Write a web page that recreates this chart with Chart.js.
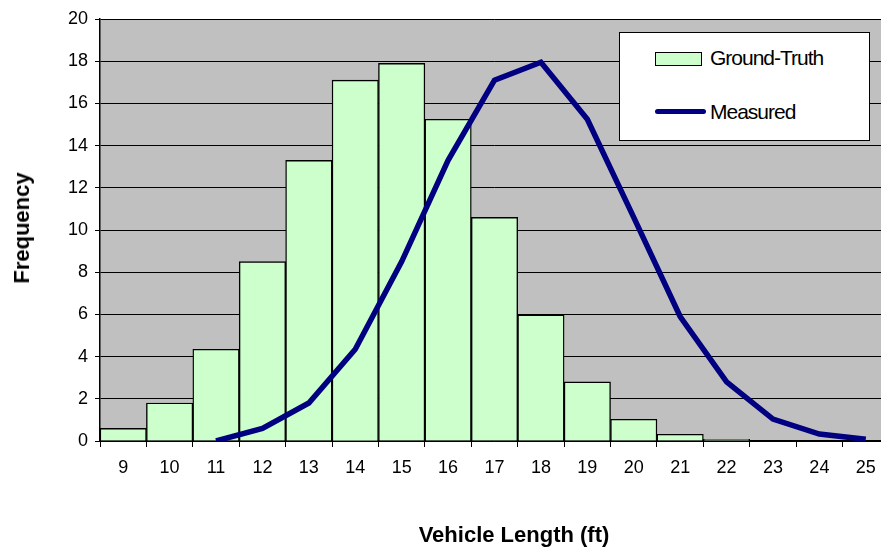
<!DOCTYPE html>
<html lang="en">
<head>
    <meta charset="UTF-8">
    <title>Vehicle Length Histogram</title>
    <script src="https://cdn.jsdelivr.net/npm/chart.js"></script>
    <style>
        html, body {
            margin: 0;
            padding: 0;
            background: #ffffff;
            overflow: hidden;
            font-family: 'Liberation Sans', Arial, sans-serif;
        }

        .wrap {
            position: relative;
            width: 890px;
            height: 550px;
        }

        /* Legend box drawn as html over the canvas */
        .legend {
            position: absolute;
            left: 619px;
            top: 32px;
            width: 249px;
            height: 107px;
            background: #ffffff;
            border: 1px solid #000;
        }

        .legend .item {
            position: absolute;
            left: 90px;
            font-size: 21px;
            letter-spacing: -1px;
            color: #000;
            line-height: 24px;
        }

        .legend .box {
            position: absolute;
            left: 35px;
            top: 19px;
            width: 45px;
            height: 12px;
            background: #ccffcc;
            border: 1px solid #000;
        }

        .legend .line {
            position: absolute;
            left: 35px;
            top: 76px;
            width: 51px;
            height: 5px;
            border-radius: 3px;
            background: #000080;
        }

        .xtitle {
            position: absolute;
            left: 0;
            width: 1028px;
            top: 522px;
            text-align: center;
            font-weight: bold;
            font-size: 22px;
        }

        .ytitle {
            position: absolute;
            left: 22px;
            top: 228px;
            transform: translate(-50%, -50%) rotate(-90deg);
            font-weight: bold;
            font-size: 22px;
            white-space: nowrap;
        }
    </style>
</head>
<body>
    <div class="wrap">
        <canvas id="histChart" width="890" height="550"></canvas>
        <div class="legend">
            <div class="box"></div>
            <div class="item" style="top: 13px;">Ground-Truth</div>
            <div class="line"></div>
            <div class="item" style="top: 67px;">Measured</div>
        </div>
        <div class="ytitle">Frequency</div>
        <div class="xtitle">Vehicle Length (ft)</div>
    </div>

    <script>
        // vehicle length bins (ft)
        const lengths = ['9', '10', '11', '12', '13', '14', '15', '16', '17', '18', '19', '20', '21', '22', '23', '24', '25'];

        // frequencies
        const groundTruth = [0.6, 1.8, 4.35, 8.5, 13.3, 17.1, 17.9, 15.25, 10.6, 5.97, 2.8, 1.03, 0.32, 0.08, 0, 0, 0];
        const measured = [null, null, 0, 0.6, 1.8, 4.35, 8.5, 13.3, 17.1, 17.95, 15.25, 10.6, 5.9, 2.8, 1.04, 0.33, 0.08];

        const yTicks = [0, 2, 4, 6, 8, 10, 12, 14, 16, 18, 20];

        // gray plot background
        const plotBg = {
            id: 'plotBg',
            beforeDraw(chart) {
                const a = chart.chartArea;
                const ctx = chart.ctx;
                ctx.save();
                ctx.fillStyle = '#c0c0c0';
                ctx.fillRect(a.left, a.top, a.right - a.left, a.bottom - a.top);
                ctx.restore();
            }
        };

        const ctx = document.getElementById('histChart').getContext('2d');
        new Chart(ctx, {
            data: {
                labels: lengths,
                datasets: [
                    {
                        type: 'line',
                        label: 'Measured',
                        data: measured,
                        borderColor: '#000080',
                        borderWidth: 5.5,
                        pointRadius: 0,
                        tension: 0,
                        fill: false,
                        spanGaps: false,
                        order: 0
                    },
                    {
                        type: 'bar',
                        label: 'Ground-Truth',
                        data: groundTruth,
                        backgroundColor: '#ccffcc',
                        borderColor: '#000',
                        borderWidth: 1.4,
                        categoryPercentage: 1.0,
                        barPercentage: 1.0,
                        order: 1
                    }
                ]
            },
            options: {
                responsive: false,
                animation: false,
                layout: {
                    padding: { top: 19, right: 1, left: 0, bottom: 0 }
                },
                plugins: {
                    legend: { display: false },
                    tooltip: { enabled: false }
                },
                scales: {
                    x: {
                        offset: true,
                        grid: {
                            offset: true,
                            drawOnChartArea: false,
                            drawTicks: true,
                            tickLength: 6,
                            color: '#000'
                        },
                        border: { color: '#000', width: 1.5 },
                        ticks: {
                            color: '#000',
                            padding: 10,
                            font: { family: 'Liberation Sans', size: 18 }
                        },
                        afterFit(scale) {
                            scale.height = 109;
                        }
                    },
                    y: {
                        min: 0,
                        max: 20,
                        afterBuildTicks(scale) {
                            scale.ticks = yTicks.map(v => ({ value: v }));
                        },
                        grid: {
                            color: '#000',
                            tickLength: 5,
                            lineWidth: 1
                        },
                        border: { color: '#000', width: 1.5 },
                        ticks: {
                            color: '#000',
                            padding: 7,
                            font: { family: 'Liberation Sans', size: 18 }
                        },
                        afterFit(scale) {
                            scale.width = 100;
                        }
                    }
                }
            },
            plugins: [plotBg]
        });
    </script>
</body>
</html>
